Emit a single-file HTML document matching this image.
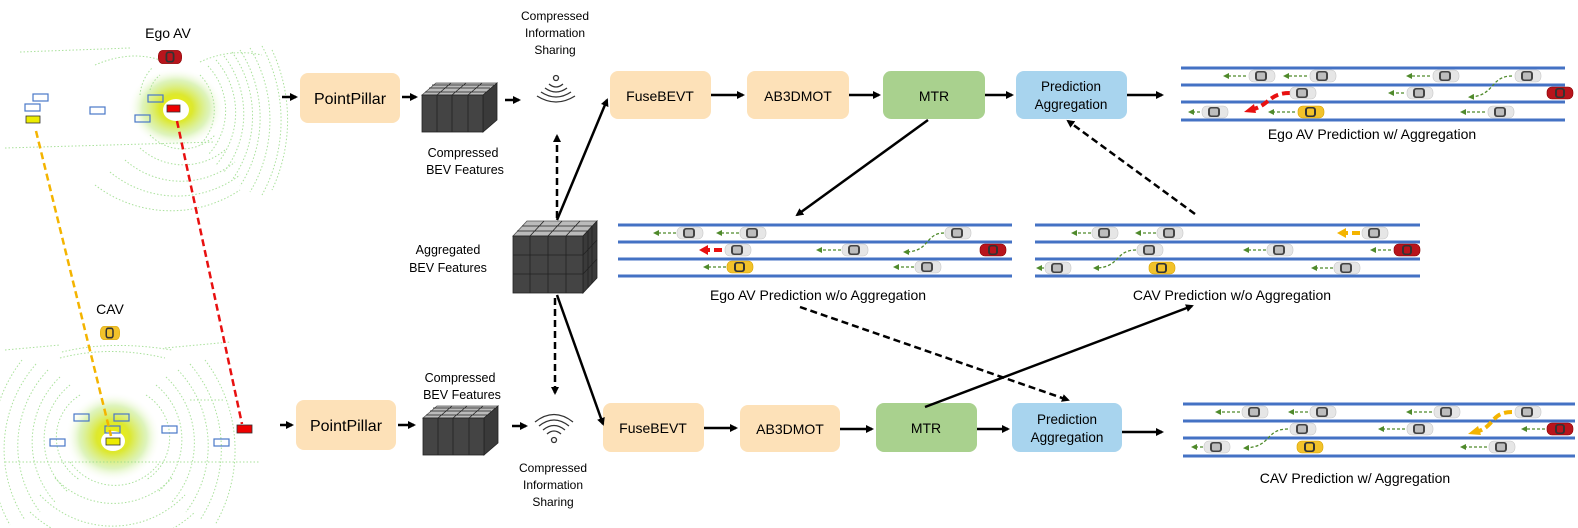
<!DOCTYPE html>
<html><head><meta charset="utf-8"><style>
html,body{margin:0;padding:0;background:#fff;}
svg{display:block;font-family:"Liberation Sans",Arial,sans-serif;}
</style></head><body>
<svg width="1578" height="528" viewBox="0 0 1578 528" xmlns="http://www.w3.org/2000/svg">
<defs>
<marker id="ah" markerWidth="8" markerHeight="8" refX="6" refY="4" orient="auto" markerUnits="userSpaceOnUse"><path d="M0,0 L8,4 L0,8 Z" fill="#000"/></marker>
<marker id="ag" markerWidth="6" markerHeight="6" refX="4" refY="3" orient="auto" markerUnits="userSpaceOnUse"><path d="M0,0 L6,3 L0,6 Z" fill="#4f8a2b"/></marker>
<radialGradient id="yc"><stop offset="0" stop-color="#f2f200"/><stop offset="0.35" stop-color="#dde830"/><stop offset="0.7" stop-color="#c8ec90" stop-opacity="0.6"/><stop offset="1" stop-color="#fff" stop-opacity="0"/></radialGradient>
<g id="car"><rect x="-13" y="-6" width="26" height="12" rx="5" fill="#e6e6e6" stroke="#c8c8c8" stroke-width="0.6"/><rect x="-7" y="-5" width="12" height="10" rx="3" fill="#444"/><rect x="-5" y="-3.5" width="8" height="7" rx="1.5" fill="#bdbdbd"/></g>
<g id="ycar"><rect x="-13" y="-6" width="26" height="12" rx="5" fill="#f2c22a" stroke="#d9a400" stroke-width="0.6"/><rect x="-6" y="-5" width="11" height="10" rx="3" fill="#333"/><rect x="-4" y="-3.5" width="7" height="7" rx="1.5" fill="#f2c22a"/></g>
<g id="rcar"><rect x="-13" y="-6" width="26" height="12" rx="5" fill="#b8141c" stroke="#8a0000" stroke-width="0.6"/><rect x="-5" y="-5" width="10" height="10" rx="3" fill="#333"/><rect x="-3" y="-3.5" width="6" height="7" rx="1.5" fill="#b8141c"/></g>
</defs>

<!-- top point cloud -->
<g>
<ellipse cx="176" cy="108" rx="48" ry="40" fill="url(#yc)"/>
<g fill="none" stroke="#9bdc8a" stroke-width="1" stroke-dasharray="1.5 2" opacity="0.85">
<path d="M200,75 A50,50 0 0 1 200,145"/><path d="M208,66 A65,65 0 0 1 208,155"/><path d="M216,60 A80,80 0 0 1 216,165"/><path d="M224,56 A95,95 0 0 1 224,172"/><path d="M232,52 A110,110 0 0 1 232,180"/><path d="M240,50 A125,125 0 0 1 240,186"/><path d="M250,48 A140,140 0 0 1 250,192"/><path d="M262,46 A155,155 0 0 1 262,195"/><path d="M272,50 A165,165 0 0 1 272,190"/>
<path d="M150,135 A45,45 0 0 0 215,135"/><path d="M140,148 A65,65 0 0 0 225,150"/><path d="M125,160 A85,85 0 0 0 235,162"/><path d="M110,172 A105,105 0 0 0 240,175"/><path d="M95,185 A125,125 0 0 0 240,190"/>
<path d="M150,90 A30,30 0 0 1 160,75"/><path d="M140,95 A45,45 0 0 1 152,68"/>
<path d="M95,65 Q130,50 160,60"/><path d="M200,62 Q230,48 262,55"/><path d="M20,52 L130,48"/><path d="M5,148 L215,142"/>
</g>
<ellipse cx="176" cy="110" rx="13" ry="11" fill="#fff"/>
</g>
<!-- bottom point cloud -->
<g>
<ellipse cx="113" cy="437" rx="48" ry="45" fill="url(#yc)"/>
<g fill="none" stroke="#9bdc8a" stroke-width="1" stroke-dasharray="1.5 2" opacity="0.85">
<path d="M80,395 A50,50 0 0 0 80,480"/><path d="M146,395 A50,50 0 0 1 146,480"/>
<path d="M70,385 A70,70 0 0 0 68,492"/><path d="M156,385 A70,70 0 0 1 158,492"/>
<path d="M60,377 A90,90 0 0 0 55,502"/><path d="M166,377 A90,90 0 0 1 172,502"/>
<path d="M48,370 A110,110 0 0 0 40,512"/><path d="M178,370 A110,110 0 0 1 186,512"/>
<path d="M36,364 A130,130 0 0 0 25,520"/><path d="M190,364 A130,130 0 0 1 200,520"/>
<path d="M22,360 A150,150 0 0 0 10,525"/><path d="M205,360 A150,150 0 0 1 215,525"/>
<path d="M70,462 A55,55 0 0 0 160,462"/><path d="M55,478 A80,80 0 0 0 172,478"/><path d="M40,495 A100,100 0 0 0 185,495"/><path d="M30,512 A120,120 0 0 0 195,512"/>
<path d="M60,358 Q110,345 165,358"/><path d="M62,352 Q110,340 172,350"/><path d="M5,350 L60,345"/><path d="M165,348 L230,342"/>
<path d="M5,462 L260,462"/><path d="M190,400 L225,400"/>
</g>
<ellipse cx="113" cy="441" rx="12" ry="10" fill="#fff"/>
</g>

<!-- bounding boxes -->
<g fill="none" stroke="#4a78c8" stroke-width="1.2">
<rect x="33" y="94" width="15" height="7"/><rect x="25" y="104" width="15" height="7"/><rect x="90" y="107" width="15" height="7"/><rect x="148" y="95" width="15" height="7"/><rect x="135" y="115" width="15" height="7"/>
<rect x="74" y="414" width="15" height="7"/><rect x="114" y="414" width="15" height="7"/><rect x="105" y="426" width="15" height="7"/><rect x="162" y="426" width="15" height="7"/><rect x="50" y="439" width="15" height="7"/><rect x="214" y="439" width="15" height="7"/>
</g>
<rect x="26" y="116" width="14" height="7" fill="#ecec00" stroke="#333" stroke-width="0.8"/>
<rect x="167" y="105" width="13" height="7" fill="#e00" stroke="#333" stroke-width="0.8"/>
<rect x="106" y="438" width="14" height="7" fill="#ecec00" stroke="#333" stroke-width="0.8"/>
<rect x="237" y="425" width="15" height="8" fill="#e00" stroke="#333" stroke-width="0.8"/>
<line x1="36" y1="131" x2="111" y2="436" stroke="#f4b400" stroke-width="2.5" stroke-dasharray="7 4"/>
<line x1="177" y1="121" x2="242" y2="424" stroke="#e81010" stroke-width="2.5" stroke-dasharray="7 4"/>

<text x="168" y="38" font-size="14" text-anchor="middle">Ego AV</text>
<use href="#rcar" transform="translate(170,57) scale(0.9,1.1)"/>
<text x="110" y="314" font-size="14" text-anchor="middle">CAV</text>
<use href="#ycar" transform="translate(110,333) scale(0.75,1.1)"/>

<!-- top pipeline -->
<g font-size="13" text-anchor="middle">
<line x1="282" y1="97" x2="296" y2="97" stroke="#000" stroke-width="2.5" marker-end="url(#ah)"/>
<rect x="300" y="73" width="100" height="50" rx="8" fill="#fde1b8"/>
<text x="350" y="104" font-size="16">PointPillar</text>
<line x1="402" y1="97" x2="416" y2="97" stroke="#000" stroke-width="2.5" marker-end="url(#ah)"/>
<g>
<polygon points="422,95 436,83 497,83 483,95" fill="#bbb" stroke="#555" stroke-width="0.8"/>
<polygon points="483,95 497,83 497,120 483,132" fill="#3a3a3a" stroke="#222" stroke-width="0.8"/>
<rect x="422" y="95" width="61" height="37" fill="#444" stroke="#222" stroke-width="0.8"/>
<path d="M437,95 V132 M452,95 V132 M468,95 V132 M425,92 H486 M429,88 H490 M432,85 H494 M437,95 L451,83 M452,95 L466,83 M468,95 L482,83" stroke="#222" stroke-width="0.8" fill="none"/>
</g>
<text x="463" y="157" font-size="12.5">Compressed</text>
<text x="465" y="174" font-size="12.5">BEV Features</text>
<line x1="505" y1="100" x2="519" y2="100" stroke="#000" stroke-width="2.5" marker-end="url(#ah)"/>
<g fill="none" stroke="#333" stroke-width="1.3">
<circle cx="556" cy="78" r="2.5"/>
<path d="M549,84 Q556,90 563,84"/><path d="M545,88 Q556,96 567,88"/><path d="M541,92 Q556,102 571,92"/><path d="M537,96 Q556,108 575,96"/>
</g>
<text x="555" y="20" font-size="12">Compressed</text>
<text x="555" y="37" font-size="12">Information</text>
<text x="555" y="54" font-size="12">Sharing</text>

<rect x="610" y="71" width="101" height="48" rx="8" fill="#fde1b8"/>
<text x="660" y="101" font-size="14">FuseBEVT</text>
<line x1="711" y1="95" x2="743" y2="95" stroke="#000" stroke-width="2.5" marker-end="url(#ah)"/>
<rect x="747" y="71" width="102" height="48" rx="8" fill="#fde1b8"/>
<text x="798" y="101" font-size="14">AB3DMOT</text>
<line x1="849" y1="95" x2="879" y2="95" stroke="#000" stroke-width="2.5" marker-end="url(#ah)"/>
<rect x="883" y="71" width="102" height="48" rx="8" fill="#a9d18e"/>
<text x="934" y="101" font-size="14">MTR</text>
<line x1="985" y1="95" x2="1012" y2="95" stroke="#000" stroke-width="2.5" marker-end="url(#ah)"/>
<rect x="1016" y="71" width="111" height="48" rx="8" fill="#a8d4ee"/>
<text x="1071" y="91" font-size="13.5">Prediction</text>
<text x="1071" y="109" font-size="13.5">Aggregation</text>
<line x1="1127" y1="95" x2="1162" y2="95" stroke="#000" stroke-width="2.5" marker-end="url(#ah)"/>
</g>

<!-- bottom pipeline -->
<g font-size="13" text-anchor="middle">
<line x1="280" y1="425" x2="292" y2="425" stroke="#000" stroke-width="2.5" marker-end="url(#ah)"/>
<rect x="296" y="400" width="100" height="50" rx="8" fill="#fde1b8"/>
<text x="346" y="431" font-size="16">PointPillar</text>
<line x1="398" y1="425" x2="414" y2="425" stroke="#000" stroke-width="2.5" marker-end="url(#ah)"/>
<g>
<polygon points="423,418 437,406 498,406 484,418" fill="#bbb" stroke="#555" stroke-width="0.8"/>
<polygon points="484,418 498,406 498,443 484,455" fill="#3a3a3a" stroke="#222" stroke-width="0.8"/>
<rect x="423" y="418" width="61" height="37" fill="#444" stroke="#222" stroke-width="0.8"/>
<path d="M438,418 V455 M453,418 V455 M469,418 V455 M426,415 H487 M430,411 H491 M433,408 H495 M438,418 L452,406 M453,418 L467,406 M469,418 L483,406" stroke="#222" stroke-width="0.8" fill="none"/>
</g>
<text x="460" y="382" font-size="12.5">Compressed</text>
<text x="462" y="399" font-size="12.5">BEV Features</text>
<line x1="512" y1="426" x2="526" y2="426" stroke="#000" stroke-width="2.5" marker-end="url(#ah)"/>
<g fill="none" stroke="#333" stroke-width="1.3">
<circle cx="554" cy="440" r="2.5"/>
<path d="M547,434 Q554,428 561,434"/><path d="M543,430 Q554,421 565,430"/><path d="M539,426 Q554,414 569,426"/><path d="M535,422 Q554,407 573,422"/>
</g>
<text x="553" y="472" font-size="12">Compressed</text>
<text x="553" y="489" font-size="12">Information</text>
<text x="553" y="506" font-size="12">Sharing</text>

<rect x="603" y="403" width="101" height="49" rx="8" fill="#fde1b8"/>
<text x="653" y="433" font-size="14">FuseBEVT</text>
<line x1="704" y1="428" x2="736" y2="428" stroke="#000" stroke-width="2.5" marker-end="url(#ah)"/>
<rect x="740" y="405" width="100" height="47" rx="8" fill="#fde1b8"/>
<text x="790" y="434" font-size="14">AB3DMOT</text>
<line x1="840" y1="429" x2="872" y2="429" stroke="#000" stroke-width="2.5" marker-end="url(#ah)"/>
<rect x="876" y="403" width="101" height="49" rx="8" fill="#a9d18e"/>
<text x="926" y="433" font-size="14">MTR</text>
<line x1="977" y1="429" x2="1008" y2="429" stroke="#000" stroke-width="2.5" marker-end="url(#ah)"/>
<rect x="1012" y="403" width="110" height="49" rx="8" fill="#a8d4ee"/>
<text x="1067" y="424" font-size="13.5">Prediction</text>
<text x="1067" y="442" font-size="13.5">Aggregation</text>
<line x1="1122" y1="432" x2="1162" y2="432" stroke="#000" stroke-width="2.5" marker-end="url(#ah)"/>
</g>

<!-- aggregated cube -->
<g>
<polygon points="513,236 527,221 597,221 583,236" fill="#bbb" stroke="#555" stroke-width="0.8"/>
<polygon points="583,236 597,221 597,278 583,293" fill="#3a3a3a" stroke="#222" stroke-width="0.8"/>
<rect x="513" y="236" width="70" height="57" fill="#444" stroke="#222" stroke-width="0.8"/>
<path d="M530,236 V293 M548,236 V293 M566,236 V293 M513,255 H583 M513,274 H583 M517,231 H588 M522,226 H592 M530,236 L544,221 M548,236 L562,221 M566,236 L580,221 M583,255 L597,240 M583,274 L597,259 M588,231 V288 M592,226 V283" stroke="#222" stroke-width="0.8" fill="none"/>
</g>
<text x="448" y="254" font-size="12.5" text-anchor="middle">Aggregated</text>
<text x="448" y="272" font-size="12.5" text-anchor="middle">BEV Features</text>

<!-- connectors -->
<g stroke="#000" stroke-width="2.5" fill="none">
<line x1="557" y1="218" x2="557" y2="136" stroke-dasharray="7 4" marker-end="url(#ah)"/>
<line x1="555" y1="298" x2="555" y2="393" stroke-dasharray="7 4" marker-end="url(#ah)"/>
<line x1="557" y1="220" x2="607" y2="100" marker-end="url(#ah)"/>
<line x1="557" y1="295" x2="603" y2="424" marker-end="url(#ah)"/>
<line x1="928" y1="120" x2="797" y2="215" marker-end="url(#ah)"/>
<line x1="1195" y1="214" x2="1068" y2="121" stroke-dasharray="7 4" marker-end="url(#ah)"/>
<line x1="800" y1="307" x2="1068" y2="400" stroke-dasharray="7 4" marker-end="url(#ah)"/>
<line x1="925" y1="407" x2="1192" y2="306" marker-end="url(#ah)"/>
</g>

<!-- road panels -->
<g stroke="#4472c4" stroke-width="3">
<path d="M1181,68 H1565 M1181,85 H1565 M1181,102 H1565 M1181,120 H1565"/>
<path d="M618,225 H1012 M618,242 H1012 M618,259 H1012 M618,276 H1012"/>
<path d="M1035,225 H1420 M1035,242 H1420 M1035,259 H1420 M1035,276 H1420"/>
<path d="M1183,404 H1575 M1183,421 H1575 M1183,438 H1575 M1183,456 H1575"/>
</g>
<g font-size="14" text-anchor="middle">
<text x="1372" y="139">Ego AV Prediction w/ Aggregation</text>
<text x="818" y="300">Ego AV Prediction w/o Aggregation</text>
<text x="1232" y="300">CAV Prediction w/o Aggregation</text>
<text x="1355" y="483">CAV Prediction w/ Aggregation</text>
</g>

<g stroke="#4f8a2b" stroke-width="1.3" stroke-dasharray="3 2" fill="none" marker-end="url(#ag)">
<path d="M1246,76 H1225"/><path d="M1307,76 H1285"/><path d="M1430,76 H1408"/>
<path d="M1512,76 C1490,76 1495,96 1470,97"/>
<path d="M1404,93 H1390"/><path d="M1200,112 H1190"/><path d="M1485,112 H1462"/><path d="M1295,112 H1270"/>
<path d="M676,233 H655"/><path d="M739,233 H718"/><path d="M944,233 C925,233 930,252 905,252"/>
<path d="M841,250 H818"/><path d="M726,267 H705"/><path d="M914,267 H895"/>
<path d="M1091,233 H1073"/><path d="M1156,233 H1137"/>
<path d="M1136,250 C1115,250 1120,268 1095,268"/><path d="M1266,250 H1245"/><path d="M1391,250 H1372"/>
<path d="M1044,268 H1038"/><path d="M1333,268 H1313"/>
<path d="M1240,412 H1217"/><path d="M1308,412 H1290"/><path d="M1432,412 H1408"/>
<path d="M1288,429 C1265,429 1272,447 1245,448"/><path d="M1405,429 H1380"/><path d="M1545,429 H1523"/>
<path d="M1203,447 H1193"/><path d="M1487,447 H1462"/>
</g>
<g fill="none" stroke-width="4" stroke-dasharray="8 4">
<path d="M1290,93 C1268,93 1270,106 1250,110" stroke="#e81010"/>
<path d="M1512,412 C1490,412 1495,428 1475,432" stroke="#f4b400"/>
<path d="M722,250 H708" stroke="#e81010"/>
<path d="M1360,233 H1346" stroke="#f4b400"/>
</g>
<path d="M1244,112 L1254,104 L1256,113 Z" fill="#e81010"/>
<path d="M1468,434 L1478,426 L1481,435 Z" fill="#f4b400"/>
<path d="M699,250 L708,245 L708,255 Z" fill="#e81010"/>
<path d="M1337,233 L1346,228 L1346,238 Z" fill="#f4b400"/>

<g>
<use href="#car" x="1262" y="76"/><use href="#car" x="1323" y="76"/><use href="#car" x="1446" y="76"/><use href="#car" x="1528" y="76"/>
<use href="#car" x="1303" y="93"/><use href="#car" x="1420" y="93"/><use href="#rcar" x="1560" y="93"/>
<use href="#car" x="1215" y="112"/><use href="#ycar" x="1311" y="112"/><use href="#car" x="1501" y="112"/>

<use href="#car" x="690" y="233"/><use href="#car" x="753" y="233"/><use href="#car" x="958" y="233"/>
<use href="#car" x="738" y="250"/><use href="#car" x="855" y="250"/><use href="#rcar" x="993" y="250"/>
<use href="#ycar" x="740" y="267"/><use href="#car" x="928" y="267"/>

<use href="#car" x="1105" y="233"/><use href="#car" x="1170" y="233"/><use href="#car" x="1375" y="233"/>
<use href="#car" x="1150" y="250"/><use href="#car" x="1280" y="250"/><use href="#rcar" x="1407" y="250"/>
<use href="#car" x="1058" y="268"/><use href="#ycar" x="1162" y="268"/><use href="#car" x="1347" y="268"/>

<use href="#car" x="1255" y="412"/><use href="#car" x="1323" y="412"/><use href="#car" x="1447" y="412"/><use href="#car" x="1528" y="412"/>
<use href="#car" x="1303" y="429"/><use href="#car" x="1420" y="429"/><use href="#rcar" x="1560" y="429"/>
<use href="#car" x="1217" y="447"/><use href="#ycar" x="1310" y="447"/><use href="#car" x="1502" y="447"/>
</g>
</svg>
</body></html>
